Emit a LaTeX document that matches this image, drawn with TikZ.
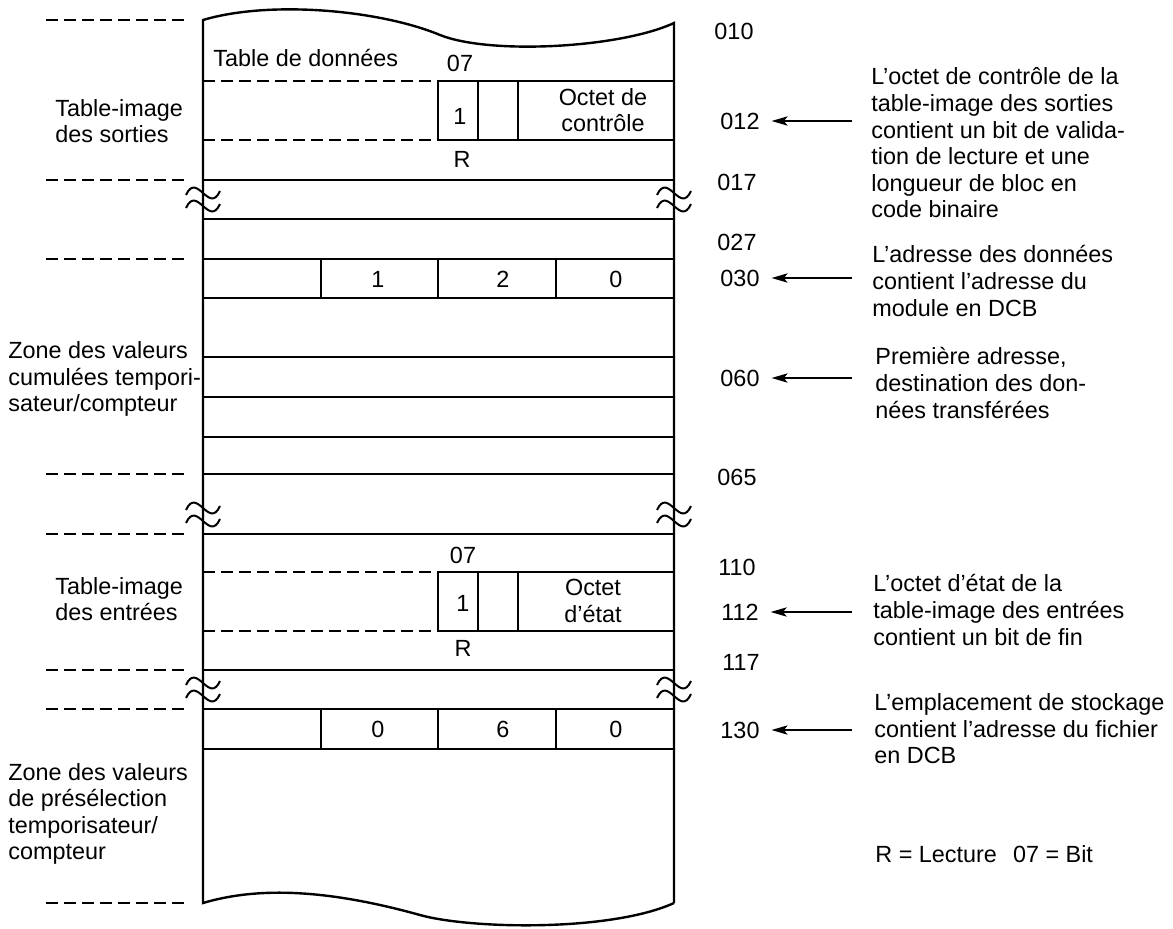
\documentclass[tikz,border=0pt]{standalone}
\usepackage{fontspec}
\setmainfont{Liberation Sans}
\usetikzlibrary{arrows.meta}

\begin{document}
\begin{tikzpicture}[
  x=0.5pt, y=-0.5pt,
  font=\fontsize{11.7}{13.3}\selectfont,
  wall/.style={line width=1.2pt},
  hidden/.style={line width=1.2pt,dash pattern=on 6pt off 3pt},
  txt/.style={inner sep=0pt,align=left,anchor=west},
  ctr/.style={inner sep=0pt,align=center},
  addr/.style={inner sep=0pt,outer sep=6pt},
  ptr/.style={-{Stealth[length=8pt,width=4.6pt,inset=1.8pt]},line width=1pt},
  brk/.style={line width=1pt},
  gapmark/.pic={
    \draw[brk] (-17,-4) .. controls (-6,-28) and (6,16) .. (17,-8);
    \draw[brk] (-17,9) .. controls (-6,-15) and (6,29) .. (17,5);
  }
]
\path[use as bounding box] (0,0) rectangle (1173,928);

% memory block, torn at top and bottom
\draw[wall] (674,903) -- (674,23)
  .. controls (620,48) and (490,55) .. (440,35)
  .. controls (380,10) and (270,0) .. (203,20) -- (203,903)
  .. controls (260,886) and (330,890) .. (420,915)
  .. controls (470,929) and (610,932) .. (674,903);

% zone markers on the left
\draw[hidden] (46,20) -- (185,20);
\draw[hidden] (46,180) -- (185,180);
\draw[hidden] (46,259) -- (185,259);
\draw[hidden] (46,474) -- (185,474);
\draw[hidden] (46,534) -- (185,534);
\draw[hidden] (46,670) -- (185,670);
\draw[hidden] (46,709) -- (185,709);
\draw[hidden] (46,903) -- (185,903);

% output image table
\draw[hidden] (203,81) -- (438,81);
\draw[wall] (438,81) -- (674,81);
\draw[hidden] (203,140) -- (438,140);
\draw[wall] (438,140) -- (674,140);
\draw[wall] (438,81) -- (438,140);
\draw[wall] (478,81) -- (478,140);
\draw[wall] (518,81) -- (518,140);
\draw[wall] (203,180) -- (674,180);
\pic at (203,199) {gapmark};
\pic at (674,199) {gapmark};
\draw[wall] (203,219) -- (674,219);
\draw[wall] (203,259) -- (674,259);
\draw[wall] (203,298) -- (674,298);
\draw[wall] (321,259) -- (321,298);
\draw[wall] (438,259) -- (438,298);
\draw[wall] (556,259) -- (556,298);

% accumulated values
\draw[wall] (203,357) -- (674,357);
\draw[wall] (203,397) -- (674,397);
\draw[wall] (203,437) -- (674,437);
\draw[wall] (203,474) -- (674,474);
\pic at (203,514) {gapmark};
\pic at (674,514) {gapmark};
\draw[wall] (203,534) -- (674,534);

% input image table
\draw[hidden] (203,572) -- (438,572);
\draw[wall] (438,572) -- (674,572);
\draw[hidden] (203,631) -- (438,631);
\draw[wall] (438,631) -- (674,631);
\draw[wall] (438,572) -- (438,631);
\draw[wall] (478,572) -- (478,631);
\draw[wall] (518,572) -- (518,631);
\draw[wall] (203,670) -- (674,670);
\pic at (203,689) {gapmark};
\pic at (674,689) {gapmark};
\draw[wall] (203,709) -- (674,709);
\draw[wall] (203,749) -- (674,749);
\draw[wall] (321,709) -- (321,749);
\draw[wall] (438,709) -- (438,749);
\draw[wall] (556,709) -- (556,749);

% texts inside the block
\node[txt] (tdata) at (213,58) {Table de données};
\node[ctr] (bitout) at (460,63) {07};
\node[ctr] (oneout) at (460,116) {1};
\node[ctr] (ctlbyte) at (603,110) {Octet de\\contrôle};
\node[ctr] (rdout) at (462,159) {R};
\node[ctr] (m1) at (378,279) {1};
\node[ctr] (m2) at (503,279) {2};
\node[ctr] (m3) at (616,279) {0};
\node[ctr] (bitin) at (463,555) {07};
\node[ctr] (onein) at (463,603) {1};
\node[ctr] (stbyte) at (593,601) {Octet\\d’état};
\node[ctr] (rdin) at (463,648) {R};
\node[ctr] (f1) at (378,729) {0};
\node[ctr] (f2) at (503,729) {6};
\node[ctr] (f3) at (616,729) {0};

% zone names
\node[txt] (outtab) at (55,121) {Table-image\\des sorties};
\node[txt] (cumzone) at (8,379) {Zone des valeurs\\cumulées tempori-\\sateur/compteur};
\node[txt] (intab) at (55,599) {Table-image\\des entrées};
\node[txt] (prezone) at (8,814) {Zone des valeurs\\de présélection\\temporisateur/\\compteur};

% addresses
\node[addr] (a010) at (734,31) {010};
\node[addr] (a012) at (740,121) {012};
\node[addr] (a017) at (737,182) {017};
\node[addr] (a027) at (737,242) {027};
\node[addr] (a030) at (740,278) {030};
\node[addr] (a060) at (740,378) {060};
\node[addr] (a065) at (737,477) {065};
\node[addr] (a110) at (737,567) {110};
\node[addr] (a112) at (740,612) {112};
\node[addr] (a117) at (741,662) {117};
\node[addr] (a130) at (740,730) {130};

% explanations
\node[txt] (d012) at (871,143) {L’octet de contrôle de la\\table-image des sorties\\contient un bit de valida-\\tion de lecture et une\\longueur de bloc en\\code binaire};
\node[txt] (d030) at (872,281) {L’adresse des données\\contient l’adresse du\\module en DCB};
\node[txt] (d060) at (875,383) {Première adresse,\\destination des don-\\nées transférées};
\node[txt] (d112) at (873,610) {L’octet d’état de la\\table-image des entrées\\contient un bit de fin};
\node[txt] (d130) at (874,729) {L’emplacement de stockage\\contient l’adresse du fichier\\en DCB};
\node[txt] (legend) at (875,854) {R = Lecture\hspace{8pt}07 = Bit};

\coordinate (t012) at (852,121);
\coordinate (t030) at (852,278);
\coordinate (t060) at (852,378);
\coordinate (t112) at (852,612);
\coordinate (t130) at (852,730);
\draw[ptr] (t012) -- (a012.east);
\draw[ptr] (t030) -- (a030.east);
\draw[ptr] (t060) -- (a060.east);
\draw[ptr] (t112) -- (a112.east);
\draw[ptr] (t130) -- (a130.east);
\end{tikzpicture}
\end{document}
